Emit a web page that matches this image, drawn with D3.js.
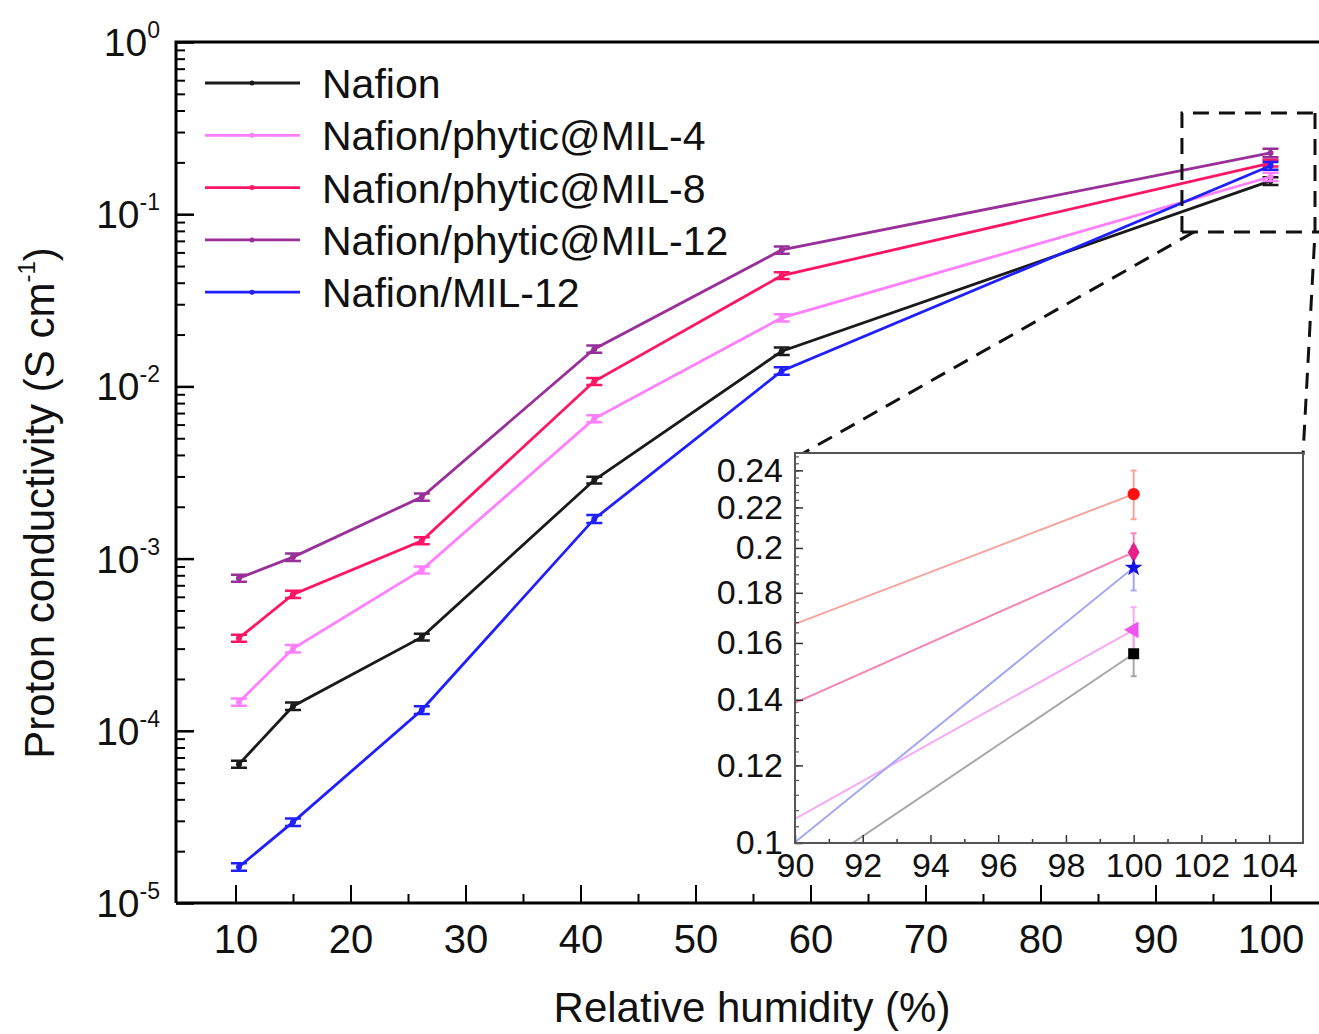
<!DOCTYPE html>
<html>
<head>
<meta charset="utf-8">
<script src="https://cdn.jsdelivr.net/npm/d3@7"></script>
<style>
  body { margin: 0; background: #fff; }
  svg { display: block; font-family: "Liberation Sans", Arial, sans-serif; }
</style>
</head>
<body>
<svg width="1319" height="1034"></svg>
<script>
const svg = d3.select('svg');

// relative humidity (%) of each measurement
const rh = [10.3, 15, 26.2, 41.2, 57.5, 100];

const seriesNames = ['Nafion', 'Nafion/phytic@MIL-4', 'Nafion/phytic@MIL-8', 'Nafion/phytic@MIL-12', 'Nafion/MIL-12'];

// proton conductivity (S cm-1)
const nafion  = [6.4e-5, 1.39e-4, 3.5e-4, 2.86e-3, 1.6e-2, 0.156];
const mil4    = [1.47e-4, 3.0e-4, 8.6e-4, 6.5e-3, 2.5e-2, 0.165];
const mil8    = [3.45e-4, 6.2e-4, 1.27e-3, 1.07e-2, 4.4e-2, 0.198];
const mil12   = [7.7e-4, 1.02e-3, 2.28e-3, 1.65e-2, 6.2e-2, 0.227];
const nafMil  = [1.62e-5, 2.95e-5, 1.32e-4, 1.7e-3, 1.23e-2, 0.191];

// error bar half-heights
const nafionErr = [0.3e-5, 0.7e-5, 1.6e-5, 1.3e-4, 0.8e-3, 0.008];
const mil4Err   = [0.7e-5, 1.5e-5, 4.0e-5, 3.0e-4, 1.2e-3, 0.009];
const mil8Err   = [1.6e-5, 3.0e-5, 6.0e-5, 5.0e-4, 2.0e-3, 0.009];
const mil12Err  = [3.5e-5, 5.0e-5, 1.1e-4, 8.0e-4, 3.0e-3, 0.013];
const nafMilErr = [0.8e-6, 1.5e-6, 0.7e-5, 0.9e-4, 0.6e-3, 0.010];

const mainColors  = ['#1a1a1a', '#ff7fff', '#ff1566', '#992f99', '#1f1fff'];
const insetLine   = ['#a8a8a8', '#f6aaf6', '#f488b8', '#f6a39c', '#a3a9f2'];
const insetMarker = ['#000000', '#ee55ee', '#e8208c', '#ff1010', '#1212e8'];
const insetSymbol = [d3.symbolSquare, d3.symbolTriangle, d3.symbolDiamond, d3.symbolCircle, d3.symbolStar];

const xTicks = [10, 20, 30, 40, 50, 60, 70, 80, 90, 100];
const yTickExp = [0, -1, -2, -3, -4, -5];
const insetXTicks = [90, 92, 94, 96, 98, 100, 102, 104];
const insetYTicks = [0.1, 0.12, 0.14, 0.16, 0.18, 0.2, 0.22, 0.24];

const values = [nafion, mil4, mil8, mil12, nafMil];
const errors = [nafionErr, mil4Err, mil8Err, mil12Err, nafMilErr];
const series = seriesNames.map((name, i) => ({
  name,
  color: mainColors[i],
  points: rh.map((x, j) => ({ x, y: values[i][j], e: errors[i][j] }))
}));

// ---------- main plot ----------
const plotLeft = 176, plotTop = 42, plotBottom = 903, plotRight = 1328;
const xScale = d3.scaleLinear().domain([5, 105]).range([178, 1328]);
const yScale = d3.scaleLog().domain([1e-5, 1]).range([plotBottom, plotTop]);

const font = 'Liberation Sans, Arial, sans-serif';

// x axis
const xAxis = svg.append('g')
  .attr('transform', `translate(0,${plotBottom})`)
  .call(d3.axisBottom(xScale).tickValues(xTicks).tickSize(-18).tickPadding(22));
xAxis.select('.domain').remove();
xAxis.selectAll('line').attr('stroke', '#000').attr('stroke-width', 2);
xAxis.selectAll('text').attr('font-size', 40).attr('font-family', font).attr('fill', '#111');

const xMinor = svg.append('g')
  .attr('transform', `translate(0,${plotBottom})`)
  .call(d3.axisBottom(xScale).tickValues(d3.range(15, 105, 10)).tickSize(-9).tickFormat(''));
xMinor.select('.domain').remove();
xMinor.selectAll('line').attr('stroke', '#000').attr('stroke-width', 2);

// y axis
const yAxis = svg.append('g')
  .attr('transform', `translate(${plotLeft},0)`)
  .call(d3.axisLeft(yScale).tickValues(yTickExp.map(e => Math.pow(10, e))).tickSize(-18).tickFormat(''));
yAxis.select('.domain').remove();
yAxis.selectAll('line').attr('stroke', '#000').attr('stroke-width', 2.5);

const minorY = [];
for (let e = -5; e < 0; e++) for (let m = 2; m <= 9; m++) minorY.push(m * Math.pow(10, e));
const yMinor = svg.append('g')
  .attr('transform', `translate(${plotLeft},0)`)
  .call(d3.axisLeft(yScale).tickValues(minorY).tickSize(-9).tickFormat(''));
yMinor.select('.domain').remove();
yMinor.selectAll('line').attr('stroke', '#000').attr('stroke-width', 2);

const yLab = svg.append('g').selectAll('text').data(yTickExp).join('text')
  .attr('x', 160)
  .attr('y', d => yScale(Math.pow(10, d)) + 14)
  .attr('text-anchor', 'end')
  .attr('font-family', font)
  .attr('font-size', 39)
  .attr('fill', '#111')
  .text('10');
yLab.append('tspan')
  .attr('font-size', 23)
  .attr('dy', -18)
  .text(d => d === 0 ? '0' : '-' + (-d));

// frame
svg.append('path')
  .attr('d', `M${plotLeft},${plotBottom}V${plotTop}H${plotRight}`)
  .attr('fill', 'none').attr('stroke', '#000').attr('stroke-width', 3);
svg.append('line')
  .attr('x1', plotLeft).attr('x2', plotRight).attr('y1', plotBottom).attr('y2', plotBottom)
  .attr('stroke', '#000').attr('stroke-width', 3);

// axis titles
svg.append('text')
  .attr('transform', 'translate(54,503) rotate(-90)')
  .attr('text-anchor', 'middle')
  .attr('font-family', font).attr('font-size', 42).attr('fill', '#111')
  .text('Proton conductivity (S cm')
  .call(t => t.append('tspan').attr('font-size', 24).attr('dy', -19).text('-1'))
  .call(t => t.append('tspan').attr('dy', 19).text(')'));

svg.append('text')
  .attr('x', 752).attr('y', 1022)
  .attr('text-anchor', 'middle')
  .attr('font-family', font).attr('font-size', 42).attr('fill', '#111')
  .text('Relative humidity (%)');

// series
const line = d3.line().x(d => xScale(d.x)).y(d => yScale(d.y));
const sg = svg.append('g').selectAll('g').data(series).join('g');
sg.append('path')
  .attr('d', d => line(d.points))
  .attr('fill', 'none')
  .attr('stroke', d => d.color)
  .attr('stroke-width', 2.8);
const pts = sg.selectAll('g.pt').data(d => d.points.map(p => ({ ...p, color: d.color }))).join('g').attr('class', 'pt');
pts.append('path')
  .attr('d', d => {
    const cx = xScale(d.x), y1 = yScale(d.y + d.e), y2 = yScale(d.y - d.e);
    return `M${cx - 8},${y1}H${cx + 8}M${cx},${y1}V${y2}M${cx - 8},${y2}H${cx + 8}`;
  })
  .attr('stroke', d => d.color).attr('stroke-width', 2.5).attr('fill', 'none');
pts.append('circle')
  .attr('cx', d => xScale(d.x)).attr('cy', d => yScale(d.y)).attr('r', 3)
  .attr('fill', d => d.color);

// legend
const lg = svg.append('g').selectAll('g').data(series).join('g')
  .attr('transform', (d, i) => `translate(205,${83 + i * 52.3})`);
lg.append('line').attr('x1', 0).attr('x2', 95)
  .attr('stroke', d => d.color).attr('stroke-width', 2.8);
lg.append('circle').attr('cx', 47).attr('r', 2.5).attr('fill', d => d.color);
lg.append('text').attr('x', 117).attr('y', 15)
  .attr('font-family', font).attr('font-size', 41).attr('fill', '#111')
  .text(d => d.name);

// zoom box and connectors
const zx0 = xScale(92.3), zy0 = yScale(0.387), zy1 = yScale(0.0788), zx1 = 1315;
const dash = g => g.attr('fill', 'none').attr('stroke', '#111').attr('stroke-width', 3).attr('stroke-dasharray', '16,10');
svg.append('path').attr('d', `M${zx0},${zy1}V${zy0}H${zx1 + 10}`).call(dash);
svg.append('path').attr('d', `M${zx0},${zy1}H${zx1 + 10}`).call(dash);
svg.append('path').attr('d', `M${zx1},${zy0}V${zy1}L1303,455`).call(dash);
svg.append('path').attr('d', `M${zx0 + 12},${zy1}L800,455`).call(dash);

// ---------- inset ----------
const ix = d3.scaleLinear().domain([90, 105]).range([795, 1303]);
const iy = d3.scaleLog().domain([0.1, 0.25]).range([843, 453]);

const inset = svg.append('g');
inset.append('rect')
  .attr('x', 795).attr('y', 453).attr('width', 508).attr('height', 390)
  .attr('fill', '#fff');

svg.append('clipPath').attr('id', 'ic')
  .append('rect').attr('x', 795).attr('y', 453).attr('width', 508).attr('height', 390);

const iline = d3.line().x(d => ix(d.x)).y(d => iy(d.y));
inset.append('g').attr('clip-path', 'url(#ic)')
  .selectAll('path').data(series).join('path')
  .attr('d', d => iline(d.points))
  .attr('fill', 'none')
  .attr('stroke', (d, i) => insetLine[i])
  .attr('stroke-width', 2);

const last = series.map((s, i) => ({ ...s.points[s.points.length - 1], i }));
inset.selectAll('path.ebar').data(last).join('path').attr('class', 'ebar')
  .attr('d', d => {
    const cx = ix(d.x), y1 = iy(d.y + d.e), y2 = iy(d.y - d.e);
    return `M${cx - 3},${y1}H${cx + 3}M${cx},${y1}V${y2}M${cx - 3},${y2}H${cx + 3}`;
  })
  .attr('stroke', d => insetLine[d.i]).attr('stroke-width', 2).attr('fill', 'none');
inset.selectAll('path.mk').data(last).join('path').attr('class', 'mk')
  .attr('transform', d => `translate(${ix(d.x)},${iy(d.y)}) rotate(${d.i === 1 ? -90 : 0})`)
  .attr('d', d => d3.symbol().type(insetSymbol[d.i]).size(d.i === 4 ? 100 : 120)())
  .attr('fill', d => insetMarker[d.i]);

const ixAxis = inset.append('g').attr('transform', 'translate(0,843)')
  .call(d3.axisBottom(ix).tickValues(insetXTicks).tickSize(-8).tickPadding(10));
ixAxis.select('.domain').remove();
ixAxis.selectAll('line').attr('stroke', '#333').attr('stroke-width', 1.5);
ixAxis.selectAll('text').attr('font-size', 34).attr('font-family', font).attr('fill', '#111');
const ixMinor = inset.append('g').attr('transform', 'translate(0,843)')
  .call(d3.axisBottom(ix).tickValues(d3.range(91, 105, 2)).tickSize(-4).tickFormat(''));
ixMinor.select('.domain').remove();
ixMinor.selectAll('line').attr('stroke', '#333').attr('stroke-width', 1.5);

const iyAxis = inset.append('g').attr('transform', 'translate(795,0)')
  .call(d3.axisLeft(iy).tickValues(insetYTicks).tickSize(-8).tickPadding(12)
    .tickFormat(d => String(+d.toFixed(2))));
iyAxis.select('.domain').remove();
iyAxis.selectAll('line').attr('stroke', '#333').attr('stroke-width', 1.5);
iyAxis.selectAll('text').attr('font-size', 34).attr('font-family', font).attr('fill', '#111');
const iyMinor = inset.append('g').attr('transform', 'translate(795,0)')
  .call(d3.axisLeft(iy).tickValues(d3.range(0.1, 0.25, 0.004)).tickSize(-4).tickFormat(''));
iyMinor.select('.domain').remove();
iyMinor.selectAll('line').attr('stroke', '#333').attr('stroke-width', 1);

inset.append('rect')
  .attr('x', 795).attr('y', 453).attr('width', 508).attr('height', 390)
  .attr('fill', 'none').attr('stroke', '#555').attr('stroke-width', 2);
</script>
</body>
</html>
